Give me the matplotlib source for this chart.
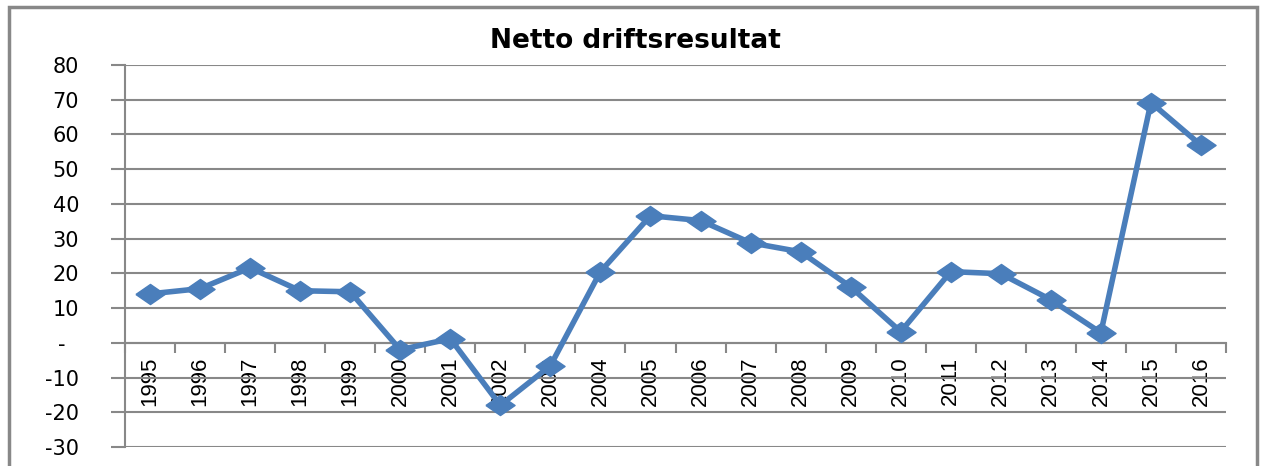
import numpy as np
import matplotlib.pyplot as plt
from matplotlib.patches import Rectangle

years = [str(y) for y in range(1995, 2017)]
values = [14.1, 15.6, 21.6, 15.0, 14.7, -2.0, 1.2, -18.0, -6.6, 20.5, 36.6,
          35.2, 28.8, 26.2, 16.1, 3.2, 20.5, 19.9, 12.4, 2.9, 69.2, 56.9]
yticks = list(range(-30, 90, 10))
ylabels = ['-30', '-20', '-10', '-  ', '10', '20', '30',
           '40', '50', '60', '70', '80']

blue = '#4A7EBB'
grey = '#888888'

fig = plt.figure(figsize=(12.61, 4.66), dpi=100)
ax = fig.add_axes([125 / 1261, 1 - 447 / 466, 1101 / 1261, 382 / 466])

# axis line sits at zero, do this before styling ticks (it resets them)
for s in ['top', 'right']:
    ax.spines[s].set_visible(False)
ax.spines['bottom'].set_position(('data', 0))
ax.spines['left'].set_color(grey)
ax.spines['left'].set_linewidth(1.5)
ax.spines['bottom'].set_color(grey)
ax.spines['bottom'].set_linewidth(1.5)

x = np.arange(len(years))
diamond = [(-1, 0), (0, 0.69), (1, 0), (0, -0.69), (-1, 0)]
ax.plot(x, values, color=blue, lw=4, marker=diamond, markersize=21,
        markerfacecolor=blue, markeredgecolor=blue, zorder=3, clip_on=False)

ax.set_xlim(-0.5, len(years) - 0.5)
ax.set_ylim(-30, 80)
ax.set_yticks(yticks)
ax.set_yticklabels(ylabels, fontsize=15, family='DejaVu Sans')
ax.tick_params(axis='y', length=10, width=1.5, color=grey, pad=23)
ax.yaxis.grid(True, color=grey, lw=1.5)
ax.set_axisbelow(True)

ax.set_xticks(x)
ax.set_xticklabels(years, rotation=90, fontsize=16,
                   family=['Liberation Sans Narrow', 'Liberation Sans'])
ax.set_xticks(np.arange(-0.5, len(years)), minor=True)
ax.tick_params(axis='x', which='major', length=0, pad=10)
ax.tick_params(axis='x', which='minor', length=7, width=1.5, color=grey)

fig.text(635 / 1261, 1 - 41 / 466, 'Netto driftsresultat', ha='center',
         va='center', fontsize=19, fontweight='bold', family='DejaVu Sans')

fig.add_artist(Rectangle((9 / 1261, -0.1), 1248 / 1261, 1.1 - 7 / 466,
                         transform=fig.transFigure, fill=False,
                         edgecolor=grey, lw=2.5))

fig.savefig('out.png', dpi=100)
